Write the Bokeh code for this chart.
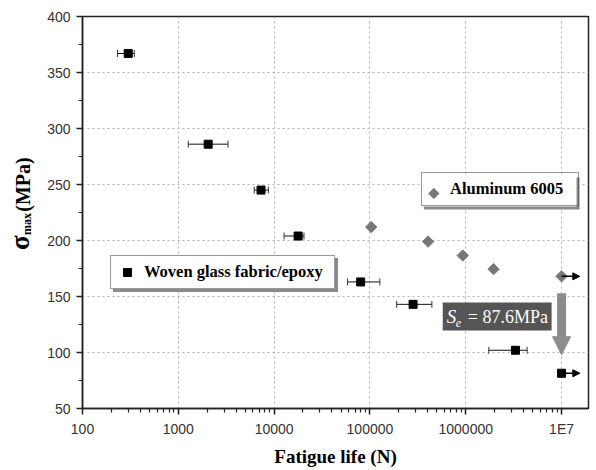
import math
from bokeh.plotting import figure
from bokeh.layouts import row
from bokeh.models import (ColumnDataSource, Whisker, TeeHead, Arrow, NormalHead, Label,
                          Legend, LegendItem, FixedTicker, BoxAnnotation, PolyAnnotation, Range1d)
from bokeh.core.properties import value
from bokeh.embed import file_html
from bokeh.resources import INLINE

# ---------------- data ----------------
glass_life = [300, 2050, 7300, 17800, 80000, 282000, 3.3e6, 1.0e7]
glass_stress = [367, 286, 245, 204, 163, 143, 102, 81.5]

err_stress = [367, 286, 245, 204, 163, 143, 102]
err_life_lo = [232, 1270, 6200, 12700, 58400, 190000, 1.74e6]
err_life_hi = [347, 3300, 8700, 20500, 127000, 443000, 4.37e6]

al_life = [103000, 405000, 930000, 1.95e6, 1.0e7]
al_stress = [212, 199, 186.6, 174.4, 168]

runout_life = [1.0e7, 1.0e7]
runout_stress = [81.5, 168]
runout_end = [1.55e7, 1.55e7]

endurance_arrow_stress = [153, 98]
endurance_stripes = [151.5, 149.0]
endurance_label = "= 87.6MPa"

x_ticks = [100, 1000, 10000, 100000, 1000000, 10000000]
x_tick_labels = ["100", "1000", "10000", "100000", "1000000", "1E7"]
x_minor = [m * d for d in [100, 1000, 10000, 100000, 1000000, 10000000] for m in range(2, 10)]
y_ticks = [50, 100, 150, 200, 250, 300, 350, 400]
y_minor = [75, 125, 175, 225, 275, 325, 375]

SERIF = "Liberation Serif"
SANS = "Liberation Sans"
LEFT_W = 40
AL_COLOR = "#777777"
SHADOW = "#8a8a8a"

# ---------------- main figure ----------------
p = figure(width=596 - LEFT_W, height=470, x_axis_type="log", x_range=(100, 1.91e7), y_range=(50, 400),
           output_backend="svg", toolbar_location=None,
           min_border_left=82 - LEFT_W, min_border_right=8, min_border_top=16, min_border_bottom=62)
p.background_fill_color = "white"
p.border_fill_color = "white"
p.outline_line_color = "#222222"
p.outline_line_width = 1.5

p.xaxis.ticker = FixedTicker(ticks=x_ticks, minor_ticks=x_minor)
p.yaxis.ticker = FixedTicker(ticks=y_ticks, minor_ticks=y_minor)
p.xaxis.major_label_overrides = {v: s for v, s in zip(x_ticks, x_tick_labels)}
for ax in (p.xaxis[0], p.yaxis[0]):
    ax.axis_line_color = "#222222"
    ax.axis_line_width = 1.5
    ax.major_tick_line_color = "#222222"
    ax.major_tick_line_width = 1.5
    ax.minor_tick_line_color = "#222222"
    ax.minor_tick_line_width = 1.2
    ax.major_tick_in = 0
    ax.major_tick_out = 6
    ax.minor_tick_in = 0
    ax.minor_tick_out = 4
    ax.major_label_text_font = SANS
    ax.major_label_text_font_size = "14px"
    ax.major_label_text_color = "#333333"
    ax.major_label_standoff = 6
p.xaxis.axis_label = "Fatigue life (N)"
p.xaxis.axis_label_text_font = SERIF
p.xaxis.axis_label_text_font_style = "bold"
p.xaxis.axis_label_text_font_size = "19px"
p.xaxis.axis_label_text_color = "black"
p.xaxis.axis_label_standoff = 6

for g in (p.xgrid[0], p.ygrid[0]):
    g.grid_line_color = "#b0b0b0"
    g.grid_line_dash = "2 3"
    g.grid_line_width = 1
p.xgrid.ticker = FixedTicker(ticks=x_ticks)
p.ygrid.ticker = FixedTicker(ticks=y_ticks)

# error bars
err_src = ColumnDataSource(dict(y=err_stress, lo=err_life_lo, hi=err_life_hi))
p.add_layout(Whisker(base="y", lower="lo", upper="hi", dimension="width", source=err_src,
                     line_color="#111111", line_width=1,
                     lower_head=TeeHead(size=7, line_color="#333333", line_width=1),
                     upper_head=TeeHead(size=7, line_color="#333333", line_width=1)))

# runout arrows
run_src = ColumnDataSource(dict(x=runout_life, y=runout_stress, xe=runout_end))
p.add_layout(Arrow(source=run_src, x_start="x", y_start="y", x_end="xe", y_end="y",
                   line_color="black", line_width=1.5,
                   end=NormalHead(size=7, fill_color="black", line_color="black")))

# series
r_glass = p.scatter(glass_life, glass_stress, marker="square", size=8,
                    fill_color="black", line_color="black")
r_al = p.scatter(al_life, al_stress, marker="square", angle=math.pi / 4, size=8,
                 fill_color=AL_COLOR, line_color=AL_COLOR)
# legend proxy for the aluminium series (legend swatches ignore marker angle)
r_al_proxy = p.scatter(x=[], y=[], marker="square", fill_alpha=0, line_alpha=0)

# endurance arrow
p.add_layout(Arrow(x_start=runout_life[1], y_start=endurance_arrow_stress[0],
                   x_end=runout_life[1], y_end=endurance_arrow_stress[1],
                   line_color="#8c8c8c", line_width=9, line_cap="butt",
                   end=NormalHead(size=18, fill_color="#8c8c8c", line_color="#8c8c8c")))
p.segment(x0=[runout_life[1] / 1.13] * 2, x1=[runout_life[1] * 1.13] * 2,
          y0=endurance_stripes, y1=endurance_stripes, line_color="white", line_width=1.3,
          level="annotation")

# S_e label box
p.add_layout(BoxAnnotation(left=5.75e5, right=7.87e6, bottom=119.6, top=144.6,
                           fill_color="#555555", fill_alpha=1, line_color=None, level="annotation"))
p.add_layout(Label(x=5.75e5, y=132, x_offset=4, text="S", text_color="white",
                   text_font=SERIF, text_font_style="italic", text_font_size="19px",
                   text_baseline="middle"))
p.add_layout(Label(x=5.75e5, y=132, x_offset=13, y_offset=-6, text="e", text_color="white",
                   text_font=SERIF, text_font_style="italic", text_font_size="12px",
                   text_baseline="middle"))
p.add_layout(Label(x=5.75e5, y=132, x_offset=25, text=endurance_label, text_color="white",
                   text_font=SERIF, text_font_size="18px", text_baseline="middle"))

# ---------------- legends ----------------
leg_kw = dict(label_text_font=SERIF, label_text_font_style="bold", label_text_font_size="16.5px",
              padding=6, spacing=0, margin=0, glyph_height=20,
              label_standoff=7, label_height=16, border_line_width=1.5)

# woven glass: shadow legend (blank label, same width) beneath the real legend
p.add_layout(Legend(items=[LegendItem(label=" ", renderers=[r_glass])], location=(31, 116),
                    background_fill_color=SHADOW, background_fill_alpha=1,
                    border_line_color=SHADOW, label_width=184, glyph_width=20, **leg_kw))
p.add_layout(Legend(items=[LegendItem(label="Woven glass fabric/epoxy", renderers=[r_glass])],
                    location=(28, 119), background_fill_color="white", background_fill_alpha=1,
                    border_line_color="#333333", label_text_color="black",
                    label_width=184, glyph_width=20, **leg_kw))

# aluminium: shadow + white panel + diamond swatch underneath a transparent legend
p.add_layout(BoxAnnotation(left=3.652e5, right=1.540e7, bottom=227.7, top=256.25,
                           fill_color=SHADOW, fill_alpha=1, line_color=None))
p.add_layout(BoxAnnotation(left=3.398e5, right=1.433e7, bottom=230.4, top=258.9,
                           fill_color="white", fill_alpha=1, line_color=None))
sw_x, sw_y, sw_dx, sw_dy = 4.64e5, 242, 1.14, 4.9
p.add_layout(PolyAnnotation(xs=[sw_x / sw_dx, sw_x, sw_x * sw_dx, sw_x],
                            ys=[sw_y, sw_y + sw_dy, sw_y, sw_y - sw_dy],
                            fill_color=AL_COLOR, fill_alpha=1, line_color=AL_COLOR, line_width=1))
p.add_layout(Legend(items=[LegendItem(label="Aluminum 6005", renderers=[r_al_proxy])],
                    location=(339, 202), background_fill_alpha=0,
                    border_line_color="#333333", label_text_color="black",
                    label_width=122, glyph_width=15, **leg_kw))

# ---------------- left strip holding the rotated y-axis title ----------------
lf = figure(width=LEFT_W, height=470, x_range=Range1d(0, LEFT_W), y_range=Range1d(0, 470),
            output_backend="svg", toolbar_location=None, min_border=0,
            x_axis_location=None, y_axis_location=None)
lf.outline_line_color = None
lf.xgrid.visible = False
lf.ygrid.visible = False
lf.background_fill_color = "white"
lf.border_fill_color = "white"
tkw = dict(angle=math.pi / 2, text_baseline="middle", text_align="left",
           text_font=value(SERIF), text_font_style="bold", text_color="black")
lf.text(x=[19], y=[190], text=["σ"], text_font_size="27px", **tkw)
lf.text(x=[26], y=[208], text=["max"], text_font_size="12px", **tkw)
lf.text(x=[22], y=[236], text=["(MPa)"], text_font_size="20px", **tkw)

layout = row(lf, p, spacing=0)
open("out.html", "w").write(file_html(layout, INLINE))
